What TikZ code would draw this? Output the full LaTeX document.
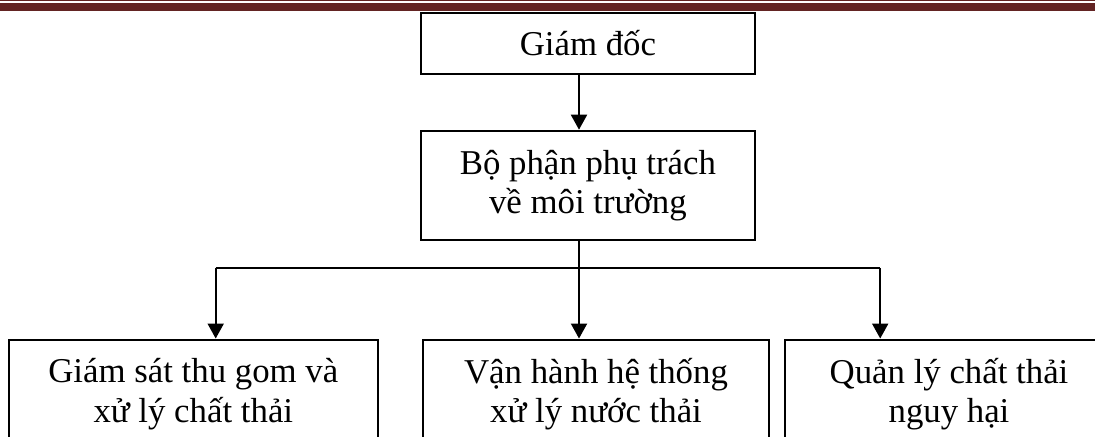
\documentclass[tikz,border=0pt]{standalone}
\usepackage{fontspec}
\setmainfont{Liberation Serif}
\usetikzlibrary{arrows.meta}
\usetikzlibrary{positioning}
\definecolor{headerred}{RGB}{99,36,35}
\tikzset {
  chart path/.style = {
    draw = black,
    line width = 1pt
  },
  % path style with an arrow at the end
  arr/.style = {
    chart path,
    -{Triangle[width = 8pt, length = 7.5pt]}
  },
  % path style with no arrows
  narr/.style = {
    chart path
  }
}
\tikzset {
  chart node/.style = {
    draw = black,
    line width = 1pt,
    rectangle,
    align = center,
    inner sep = 0,
    font = \fontsize{17.4}{19.6}\selectfont
  },
  % management level
  head/.style = {
    chart node,
    minimum width = 167.15pt
  },
  % task unit
  unit/.style = {
    chart node,
    minimum height = 54.65pt
  },
  node distance = 27.35pt
}

\begin{document}
\begin{tikzpicture}[x = 0.5pt, y = -0.5pt]
    \useasboundingbox (0,0) rectangle (1095,437);
    \clip (0,0) rectangle (1095,437);
    % page header rule
    \draw[headerred, line width = 0.5pt] (0,0.6) -- (1095,0.6);
    \draw[headerred, line width = 4pt] (0,6.6) -- (1095,6.6);

    \node[head, minimum height = 30.65pt] (director) at (587.9,43.35) {Giám đốc};
    \node[head, minimum height = 54.65pt] (office) [below=of director] {Bộ phận phụ trách\\về môi trường};
    \node[unit, minimum width = 184.5pt] (collect) at (193.3,394.2) {Giám sát thu gom và\\xử lý chất thải};
    \node[unit, minimum width = 173pt] (sewage) [right=21.6pt of collect] {Vận hành hệ thống\\xử lý nước thải};
    \node[unit, minimum width = 164pt] (hazard) [right=7pt of sewage] {Quản lý chất thải\\nguy hại};

    \coordinate (fork) at (579,268);
    \coordinate (fork-l) at (215.7,268);
    \coordinate (fork-r) at (880.2,268);

    \draw[arr] (director.south -| fork) -- (office.north -| fork);
    \draw[narr] (office.south -| fork) -- (fork);
    \draw[narr] (fork-l) -- (fork-r);
    \draw[arr] (fork-l) -- (collect.north -| fork-l);
    \draw[arr] (fork) -- (sewage.north -| fork);
    \draw[arr] (fork-r) -- (hazard.north -| fork-r);
\end{tikzpicture}
\end{document}
